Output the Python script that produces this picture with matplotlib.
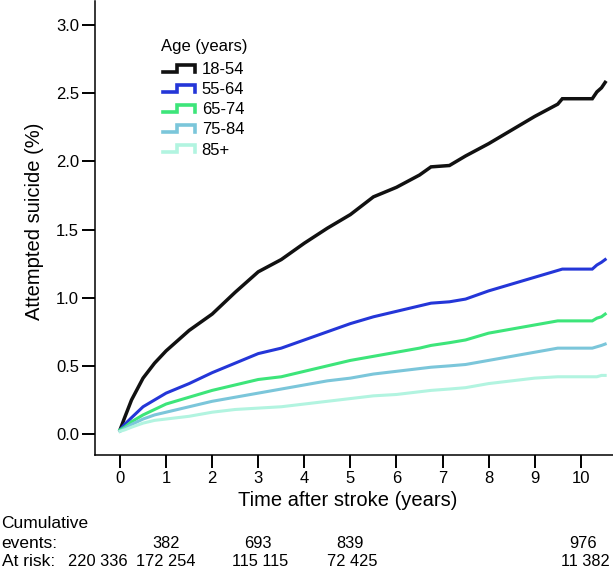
import matplotlib
matplotlib.use("Agg")
import matplotlib.pyplot as plt
from matplotlib.legend_handler import HandlerBase
from matplotlib.lines import Line2D

plt.rcParams['font.family'] = ['Liberation Sans', 'DejaVu Sans']

# ---- data ----
time_years = [0, 0.1, 0.25, 0.5, 0.75, 1, 1.5, 2, 2.5, 3, 3.5, 4, 4.5, 5, 5.5,
              6, 6.5, 6.75, 7.15, 7.5, 8, 8.5, 9, 9.5, 9.6, 10.25, 10.35, 10.45, 10.53]
age_18_54 = [0.03, 0.12, 0.25, 0.41, 0.52, 0.61, 0.76, 0.88, 1.04, 1.19, 1.28, 1.40, 1.51, 1.61, 1.74,
             1.81, 1.90, 1.96, 1.97, 2.04, 2.13, 2.23, 2.33, 2.42, 2.46, 2.46, 2.51, 2.54, 2.58]
age_55_64 = [0.03, 0.07, 0.12, 0.20, 0.25, 0.30, 0.37, 0.45, 0.52, 0.59, 0.63, 0.69, 0.75, 0.81, 0.86,
             0.90, 0.94, 0.96, 0.97, 0.99, 1.05, 1.10, 1.15, 1.20, 1.21, 1.21, 1.24, 1.26, 1.28]
age_65_74 = [0.03, 0.05, 0.09, 0.14, 0.18, 0.22, 0.27, 0.32, 0.36, 0.40, 0.42, 0.46, 0.50, 0.54, 0.57,
             0.60, 0.63, 0.65, 0.67, 0.69, 0.74, 0.77, 0.80, 0.83, 0.83, 0.83, 0.85, 0.86, 0.88]
age_75_84 = [0.02, 0.04, 0.07, 0.11, 0.14, 0.16, 0.20, 0.24, 0.27, 0.30, 0.33, 0.36, 0.39, 0.41, 0.44,
             0.46, 0.48, 0.49, 0.50, 0.51, 0.54, 0.57, 0.60, 0.63, 0.63, 0.63, 0.64, 0.65, 0.66]
age_85_plus = [0.02, 0.03, 0.05, 0.08, 0.10, 0.11, 0.13, 0.16, 0.18, 0.19, 0.20, 0.22, 0.24, 0.26, 0.28,
               0.29, 0.31, 0.32, 0.33, 0.34, 0.37, 0.39, 0.41, 0.42, 0.42, 0.42, 0.42, 0.43, 0.43]

series_labels = ["18-54", "55-64", "65-74", "75-84", "85+"]
series_values = [age_18_54, age_55_64, age_65_74, age_75_84, age_85_plus]
series_colors = ["#111111", "#2436D8", "#3DE57A", "#7BC6DA", "#B2F4E0"]
series_widths = [2.5, 2.2, 2.2, 2.2, 2.2]

x_ticks = [0, 1, 2, 3, 4, 5, 6, 7, 8, 9, 10]
y_ticks = [0.0, 0.5, 1.0, 1.5, 2.0, 2.5, 3.0]

cum_events = ["382", "693", "839", "976"]
at_risk = ["220 336", "172 254", "115 115", "72 425", "11 382"]

# ---- layout ----
W, H = 613, 568
fig = plt.figure(figsize=(W / 100, H / 100), dpi=100)
ax = fig.add_axes([95 / W, 1 - 455 / H, 1 - 95 / W, 455 / H - 0.002])

for vals, lab, col, lw in zip(series_values, series_labels, series_colors, series_widths):
    ax.plot(time_years, vals, color=col, lw=lw, label=lab, solid_joinstyle='miter')

ax.set_xlim(-0.543, 10.70)
ax.set_ylim(-0.154, 3.176)
ax.set_xticks(x_ticks)
ax.set_xticklabels([str(t) for t in x_ticks])
ax.set_yticks(y_ticks)
ax.set_yticklabels([f"{v:.1f}" for v in y_ticks])
for s in ["top", "right"]:
    ax.spines[s].set_visible(False)
for s in ["left", "bottom"]:
    ax.spines[s].set_linewidth(1.1)
ax.tick_params(axis='both', direction='out', length=9.5, width=1.4, labelsize=12, pad=2)
ax.set_xlabel("Time after stroke (years)", fontsize=14.5, labelpad=1)
ax.xaxis.set_label_coords(0.488, -0.079, transform=ax.transAxes)
ax.xaxis.label.set_verticalalignment('top')
ax.set_ylabel("Attempted suicide (%)", fontsize=14.5)
ax.yaxis.set_label_coords(-0.098, 1 - 221 / 455, transform=ax.transAxes)


class StepHandler(HandlerBase):
    def create_artists(self, legend, orig_handle, xdescent, ydescent, width, height, fontsize, trans):
        x0 = -xdescent
        y0 = -ydescent
        lo = y0 + 0.5 * height - 2.5
        hi = y0 + 0.5 * height + 2.5
        xs = [x0, x0 + 0.45 * width, x0 + 0.45 * width, x0 + width, x0 + width]
        ys = [lo, lo, hi, hi, lo]
        ln = Line2D(xs, ys, color=orig_handle.get_color(), lw=2.6, solid_joinstyle='miter')
        ln.set_transform(trans)
        return [ln]


handles = ax.get_lines()
leg = ax.legend(handles, series_labels, handler_map={Line2D: StepHandler()},
                loc='upper left', bbox_to_anchor=(163 / W, 1 - 62 / H), bbox_transform=fig.transFigure,
                frameon=False, fontsize=12,
                handlelength=1.92, handleheight=0.7, handletextpad=0.4, labelspacing=0.31,
                borderpad=0, borderaxespad=0)
fig.text(161 / W, 1 - 46 / H, "Age (years)", fontsize=12, ha='left', va='center')

# ---- table below the axis ----
def fx(px):
    return px / W

def fy(py):
    return 1 - py / H

fs_lab = 12.5
fs_num = 11.8
fig.text(fx(1), fy(524), "Cumulative", fontsize=fs_lab, ha='left', va='center')
fig.text(fx(1), fy(543), "events:", fontsize=fs_lab, ha='left', va='center')
fig.text(fx(2), fy(561), "At risk:", fontsize=fs_lab, ha='left', va='center')

events_px = [166, 258, 350, 583]
risk_px = [98, 166, 260, 352, 585]
for s, px in zip(cum_events, events_px):
    fig.text(fx(px), fy(543), s, fontsize=fs_num, ha='center', va='center')
for s, px in zip(at_risk, risk_px):
    fig.text(fx(px), fy(561), s, fontsize=fs_num, ha='center', va='center')

fig.savefig("out.png", dpi=100)
